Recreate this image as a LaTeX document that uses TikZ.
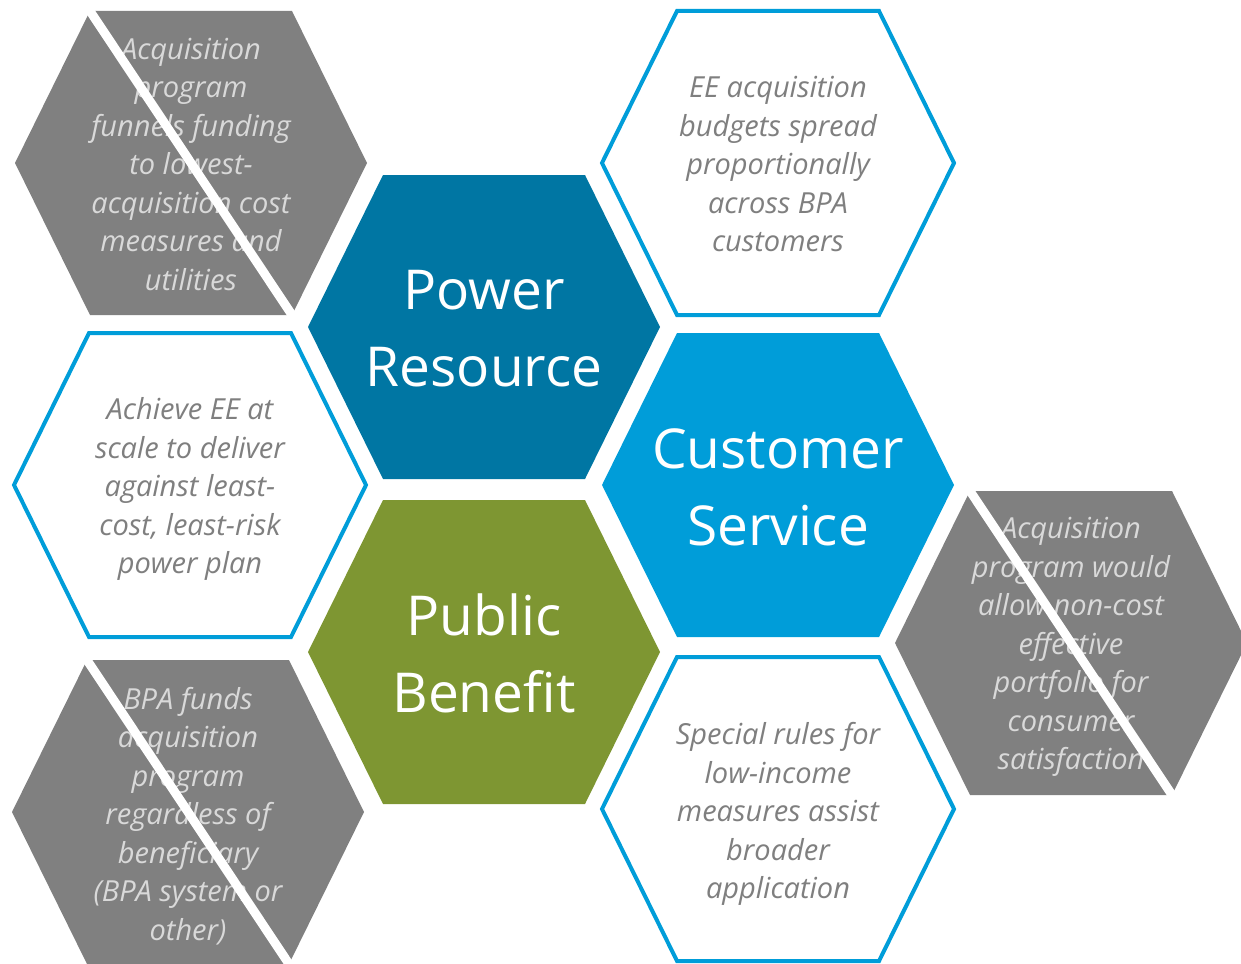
\documentclass[tikz,border=0pt]{standalone}
\usepackage{fontspec}
\setmainfont{Open Sans}
\definecolor{pwrblue}{HTML}{0076A3}
\definecolor{custblue}{HTML}{009DD9}
\definecolor{olive}{HTML}{7E9632}
\definecolor{hexgray}{HTML}{808080}
\definecolor{palegray}{HTML}{D9D9D9}
\definecolor{txtgray}{HTML}{7F7F7F}
\tikzset{
  grayhex/.style={fill=hexgray},
  linehex/.style={draw=custblue, line width=4pt, fill=white, line join=miter},
  solidhex/.style={fill=#1},
  slash/.style={draw=white, line width=9pt, line cap=round},
  smalltxt/.style={font=\fontsize{29}{38.5}\selectfont\itshape, align=center, inner sep=0pt},
  bigtxt/.style={font=\fontsize{55}{77}\selectfont, text=white, align=center, inner sep=0pt},
}
\newcommand\hexat[2]{\path[#1] (#2) ++(-176,0) -- ++(75,-152) -- ++(202,0) -- ++(75,152) -- ++(-75,152) -- ++(-202,0) -- cycle;}
\begin{document}
\begin{tikzpicture}[x=1pt,y=-1pt]
\useasboundingbox (0,0) rectangle (1241,963);
\clip (0,0) rectangle (1241,963);

% centre hexagons
\hexat{solidhex=pwrblue}{484,327}
\node[bigtxt] (power) at (484,329) {Power\\Resource};
\hexat{solidhex=custblue}{778,485}
\node[bigtxt] (cust) at (778,487) {Customer\\Service};
\hexat{solidhex=olive}{484,652}
\node[bigtxt] (public) at (484,653) {Public\\Benefit};

% white outlined hexagons
\hexat{linehex}{778,163}
\node[smalltxt, text=txtgray] (tr) at (778,164) {EE acquisition\\budgets spread\\proportionally\\across BPA\\customers};
\hexat{linehex}{190,485}
\node[smalltxt, text=txtgray] (ml) at (190,489) {Achieve EE at\\scale to deliver\\against least-\\cost, least-risk\\power plan};
\hexat{linehex}{778,809}
\node[smalltxt, text=txtgray] (br) at (778,814) {Special rules for\\low-income\\measures assist\\broader\\application};

% gray crossed-out hexagons
\hexat{grayhex}{191,163}
\node[smalltxt, text=palegray] (tl) at (191,164) {Acquisition\\program\\funnels funding\\to lowest-\\acquisition cost\\measures and\\utilities};
\draw[slash] (90,11) -- (292,315);

\hexat{grayhex}{1071,643}
\node[smalltxt, text=palegray] (rg) at (1071,647) {Acquisition\\program would\\allow non-cost\\effective\\portfolio for\\consumer\\satisfaction};
\draw[slash] (970,491) -- (1172,795);

\hexat{grayhex}{188,812}
\node[smalltxt, text=palegray] (bl) at (188,816) {BPA funds\\acquisition\\program\\regardless of\\beneficiary\\(BPA system or\\other)};
\draw[slash] (87,660) -- (289,964);
\end{tikzpicture}
\end{document}
